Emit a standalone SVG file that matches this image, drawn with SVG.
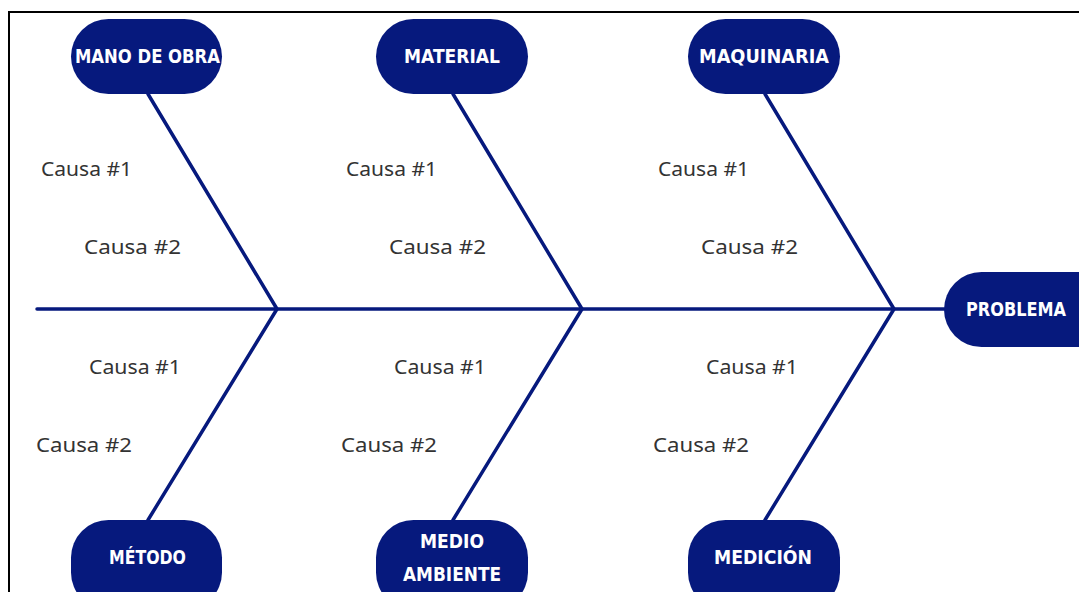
<svg xmlns="http://www.w3.org/2000/svg" width="1079" height="592" viewBox="0 0 1079 592">
  <style>
    .pill { fill: #06197d; }
    .label { fill: #ffffff; font-family: "DejaVu Sans", sans-serif; font-weight: bold; font-size: 20px; text-anchor: middle; dominant-baseline: central; }
    .bone { stroke: #06197d; stroke-width: 3.5; fill: none; stroke-linecap: round; stroke-linejoin: round; }
    .cause { fill: #333333; font-family: "Noto Sans", "Open Sans", sans-serif; font-size: 19px; }
  </style>
  <rect width="1079" height="592" fill="#ffffff"/>
  <!-- frame -->
  <path d="M9 592 V12 H1079" stroke="#000000" stroke-width="2" fill="none"/>

  <g id="connectors">
    <line class="bone" x1="37" y1="309" x2="944" y2="309"/>
    <polyline class="bone" points="148,94 277,309 148,520"/>
    <polyline class="bone" points="453,94 582,309 453,520"/>
    <polyline class="bone" points="765,94 894,309 765,520"/>
  </g>

  <g id="mano-de-obra">
    <rect class="pill" x="71" y="19" width="151" height="75" rx="37.5"/>
    <text class="label" x="147.5" y="56" textLength="145" lengthAdjust="spacingAndGlyphs">MANO DE OBRA</text>
  </g>
  <g id="material">
    <rect class="pill" x="376" y="19" width="152" height="75" rx="37.5"/>
    <text class="label" x="452" y="56" textLength="96" lengthAdjust="spacingAndGlyphs">MATERIAL</text>
  </g>
  <g id="maquinaria">
    <rect class="pill" x="688" y="19" width="152" height="75" rx="37.5"/>
    <text class="label" x="764" y="56" textLength="130" lengthAdjust="spacingAndGlyphs">MAQUINARIA</text>
  </g>
  <g id="problema">
    <rect class="pill" x="944" y="272" width="170" height="75" rx="37.5"/>
    <text class="label" x="1016" y="309" font-size="18" textLength="100" lengthAdjust="spacingAndGlyphs">PROBLEMA</text>
  </g>
  <g id="metodo">
    <rect class="pill" x="71" y="520" width="151" height="90" rx="37.5"/>
    <text class="label" x="147.5" y="557" textLength="77" lengthAdjust="spacingAndGlyphs">MÉTODO</text>
  </g>
  <g id="medio-ambiente">
    <rect class="pill" x="376" y="520" width="152" height="90" rx="37.5"/>
    <text class="label" x="452" y="541" textLength="64" lengthAdjust="spacingAndGlyphs">MEDIO</text>
    <text class="label" x="452" y="574" textLength="98" lengthAdjust="spacingAndGlyphs">AMBIENTE</text>
  </g>
  <g id="medicion">
    <rect class="pill" x="688" y="520" width="152" height="90" rx="37.5"/>
    <text class="label" x="763" y="557" textLength="98" lengthAdjust="spacingAndGlyphs">MEDICIÓN</text>
  </g>

  <g id="causes">
    <text class="cause" x="41" y="176" textLength="91" lengthAdjust="spacingAndGlyphs">Causa #1</text>
    <text class="cause" x="84" y="254" textLength="97" lengthAdjust="spacingAndGlyphs">Causa #2</text>
    <text class="cause" x="346" y="176" textLength="91" lengthAdjust="spacingAndGlyphs">Causa #1</text>
    <text class="cause" x="389" y="254" textLength="97" lengthAdjust="spacingAndGlyphs">Causa #2</text>
    <text class="cause" x="658" y="176" textLength="91" lengthAdjust="spacingAndGlyphs">Causa #1</text>
    <text class="cause" x="701" y="254" textLength="97" lengthAdjust="spacingAndGlyphs">Causa #2</text>
    <text class="cause" x="89" y="374" textLength="92" lengthAdjust="spacingAndGlyphs">Causa #1</text>
    <text class="cause" x="36" y="452" textLength="96" lengthAdjust="spacingAndGlyphs">Causa #2</text>
    <text class="cause" x="394" y="374" textLength="92" lengthAdjust="spacingAndGlyphs">Causa #1</text>
    <text class="cause" x="341" y="452" textLength="96" lengthAdjust="spacingAndGlyphs">Causa #2</text>
    <text class="cause" x="706" y="374" textLength="92" lengthAdjust="spacingAndGlyphs">Causa #1</text>
    <text class="cause" x="653" y="452" textLength="96" lengthAdjust="spacingAndGlyphs">Causa #2</text>
  </g>
</svg>
